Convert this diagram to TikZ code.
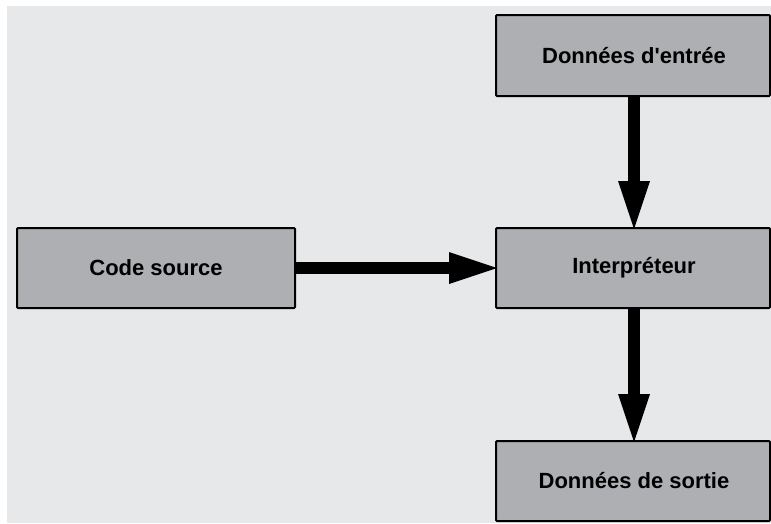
\documentclass[tikz,border=0pt]{standalone}
\usepackage{fontspec}
\setmainfont{Liberation Sans}
\usetikzlibrary{arrows.meta}
\definecolor{bggrey}{HTML}{E7E8EA}
\definecolor{boxgrey}{HTML}{ADAFB2}
\tikzset{
  blk/.style={draw=black, line width=2pt, fill=boxgrey, rounded corners=1pt},
  lbl/.style={font=\fontsize{22}{26}\selectfont\bfseries, inner sep=0pt},
  bigarrow/.style={line width=12pt, -{Triangle[length=48pt,width=32pt,line width=0pt]}, shorten >=-1pt}
}
\begin{document}
\begin{tikzpicture}[x=1pt,y=-1pt]
\useasboundingbox (0,0) rectangle (771,523);
\fill[white] (0,0) rectangle (771,523);
\fill[bggrey] (7,6) rectangle (771,523);
\draw[blk] (496,15) rectangle (770,96);
\node[lbl] (entreeT) at (634,55.5) {Données d\textquotesingle entrée};
\draw[blk] (17,228) rectangle (295,308);
\node[lbl] (codeT) at (156,268) {Code source};
\draw[blk] (496,228) rectangle (770,308);
\node[lbl] (interT) at (634,268) {Interpréteur};
\draw[blk] (496,441) rectangle (770,521);
\node[lbl] (sortieT) at (634,481) {Données de sortie};
\coordinate (eB) at (634,97);
\coordinate (iT) at (634,228);
\coordinate (cR) at (296,268);
\coordinate (iL) at (496,268);
\coordinate (iB) at (634,309);
\coordinate (sT) at (634,441);
\draw[bigarrow] (eB) -- (iT);
\draw[bigarrow] (cR) -- (iL);
\draw[bigarrow] (iB) -- (sT);
\end{tikzpicture}
\end{document}
